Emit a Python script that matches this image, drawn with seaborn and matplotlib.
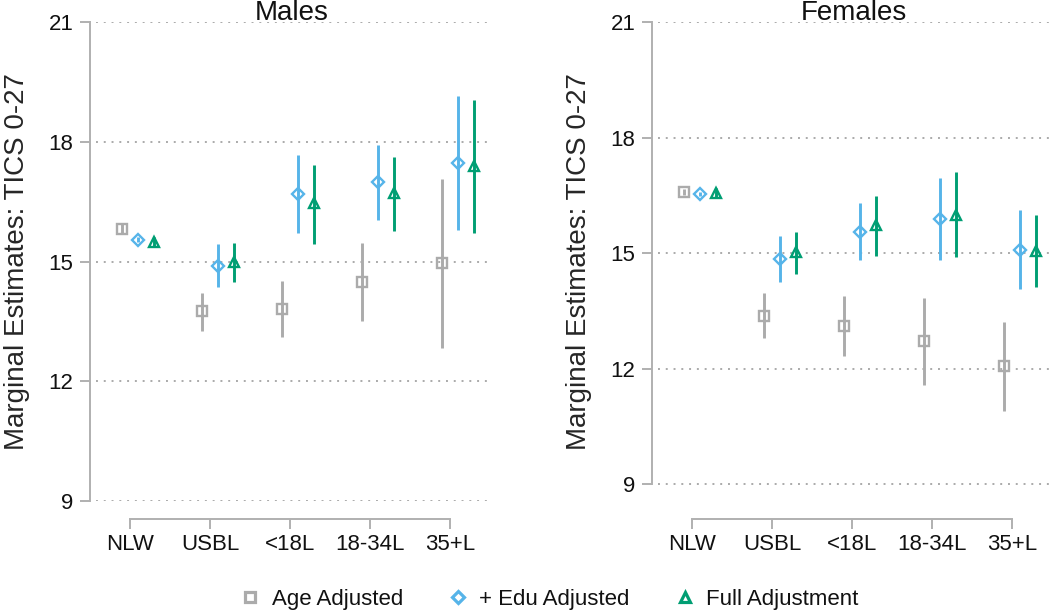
import numpy as np
import pandas as pd
import matplotlib
matplotlib.use("Agg")
import matplotlib.pyplot as plt
from matplotlib.lines import Line2D
import seaborn as sns

groups = ["NLW", "USBL", "<18L", "18-34L", "35+L"]
adjustments = ["Age Adjusted", "+ Edu Adjusted", "Full Adjustment"]

# Males
male_age_est = [15.82, 13.75, 13.82, 14.49, 14.96]
male_age_lo = [15.70, 13.27, 13.12, 13.52, 12.84]
male_age_hi = [15.95, 14.21, 14.50, 15.46, 17.07]
male_edu_est = [15.55, 14.89, 16.70, 16.98, 17.47]
male_edu_lo = [15.48, 14.37, 15.72, 16.03, 15.78]
male_edu_hi = [15.62, 15.43, 17.68, 17.91, 19.15]
male_full_est = [15.50, 14.98, 16.46, 16.72, 17.40]
male_full_lo = [15.40, 14.48, 15.43, 15.77, 15.72]
male_full_hi = [15.62, 15.46, 17.43, 17.63, 19.04]

# Females
fem_age_est = [16.59, 13.37, 13.10, 12.71, 12.06]
fem_age_lo = [16.52, 12.79, 12.33, 11.58, 10.91]
fem_age_hi = [16.66, 13.95, 13.89, 13.84, 13.22]
fem_edu_est = [16.53, 14.84, 15.55, 15.88, 15.09]
fem_edu_lo = [16.47, 14.24, 14.81, 14.82, 14.06]
fem_edu_hi = [16.59, 15.43, 16.30, 16.95, 16.12]
fem_full_est = [16.57, 15.02, 15.72, 16.00, 15.06]
fem_full_lo = [16.45, 14.45, 14.93, 14.90, 14.12]
fem_full_hi = [16.68, 15.55, 16.47, 17.10, 16.00]

yticks = [9, 12, 15, 18, 21]

colors = {"Age Adjusted": "#ABABAB", "+ Edu Adjusted": "#56B4E9", "Full Adjustment": "#009E73"}
markers = {"Age Adjusted": "s", "+ Edu Adjusted": "D", "Full Adjustment": "^"}
msizes = {"Age Adjusted": 7.0, "+ Edu Adjusted": 6.3, "Full Adjustment": 7.5}
offsets = {"Age Adjusted": -0.1, "+ Edu Adjusted": 0.1, "Full Adjustment": 0.3}

rows = []
for sex, series in [("Males", [(male_age_est, male_age_lo, male_age_hi),
                               (male_edu_est, male_edu_lo, male_edu_hi),
                               (male_full_est, male_full_lo, male_full_hi)]),
                    ("Females", [(fem_age_est, fem_age_lo, fem_age_hi),
                                 (fem_edu_est, fem_edu_lo, fem_edu_hi),
                                 (fem_full_est, fem_full_lo, fem_full_hi)])]:
    for adj, (est, lo, hi) in zip(adjustments, series):
        for i, g in enumerate(groups):
            rows.append({"sex": sex, "adj": adj, "group": g, "pos": i,
                         "est": est[i], "lo": lo[i], "hi": hi[i]})
df = pd.DataFrame(rows)

sns.set_style("ticks")
plt.rcParams["font.family"] = ["Liberation Sans", "DejaVu Sans"]
spine_col = "#B0B0B0"

fig = plt.figure(figsize=(10.5, 6.12), dpi=100)
ax_m = fig.add_axes([96 / 1050, 111 / 612, 392 / 1050, 479 / 612])
ax_f = fig.add_axes([658 / 1050, 111 / 612, 392 / 1050, 479 / 612])

for ax, sex, ylim in [(ax_m, "Males", (9, 21)), (ax_f, "Females", (8.56, 21))]:
    sub = df[df["sex"] == sex]
    for adj in adjustments:
        d = sub[sub["adj"] == adj]
        x = d["pos"] + offsets[adj]
        ax.vlines(x, d["lo"], d["hi"], color=colors[adj], lw=2.1, zorder=2)
        ax.plot(x, d["est"], linestyle="none", marker=markers[adj],
                ms=msizes[adj], mfc="none", mec=colors[adj], mew=1.7, zorder=3)
    ax.set_xlim(-0.425, 4.475)
    ax.set_ylim(*ylim)
    ax.set_xticks(range(len(groups)))
    ax.set_xticklabels(groups)
    ax.set_yticks(yticks)
    ax.tick_params(axis="both", labelsize=16, length=7, width=1.4,
                   color=spine_col, labelcolor="#111111")
    ax.tick_params(axis="y", pad=5)
    ax.tick_params(axis="x", pad=4)
    ax.yaxis.grid(True, color="#AAAAAA", linestyle=(0, (1, 3)), lw=1.4)
    ax.yaxis.get_gridlines()[-1].set_visible(False)
    ax.set_ylabel("Marginal Estimates: TICS 0-27", fontsize=20, labelpad=13)
    ax.set_xlabel("")
    ax.text(0.5, 1 + 1.5 / 479, sex, transform=ax.transAxes, ha="center",
            va="baseline", fontsize=20, color="#111111")
    sns.despine(ax=ax, offset={"left": 4.3, "bottom": 13}, trim=True)
    for s in ["left", "bottom"]:
        ax.spines[s].set_color(spine_col)
        ax.spines[s].set_linewidth(1.4)

handles = [Line2D([], [], linestyle="none", marker=markers[a], ms=msizes[a],
                  mfc="none", mec=colors[a], mew=2.3, label=a) for a in adjustments]
fig.legend(handles=handles, loc="center", bbox_to_anchor=(0.524, 1 - 599 / 612),
           ncol=3, frameon=False, fontsize=16, handlelength=0.8,
           handletextpad=0.55, columnspacing=2.1, labelcolor="#111111")

fig.savefig("out.png", dpi=100)
plt.close(fig)
